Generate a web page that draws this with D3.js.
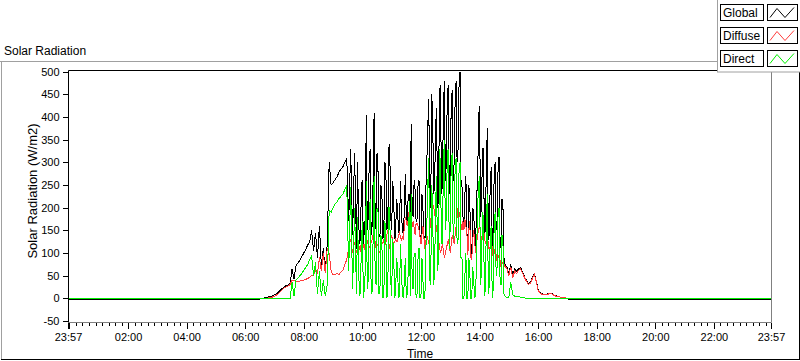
<!DOCTYPE html>
<html><head><meta charset="utf-8">
<script src="https://cdn.jsdelivr.net/npm/d3@7"></script>
<style>
html,body{margin:0;padding:0;background:#fff;}
svg{display:block;font-family:"Liberation Sans",Arial,sans-serif;}
</style></head>
<body>
<svg id="chart" width="800" height="361"></svg>
<script>
// ---------------- DATA ----------------
const times = ["23:57","06:28",
"06:32","06:36","06:40","06:44","06:48","06:52","06:56","07:00","07:04","07:08",
"07:12","07:16","07:20","07:24","07:28","07:32","07:36","07:40","07:44","07:48",
"07:52","07:56","08:00","08:04","08:08","08:12","08:16","08:20","08:24","08:28",
"08:32","08:36","08:40","08:44","08:48","08:52","08:56","09:00","09:04","09:08",
"09:12","09:16","09:20","09:24","09:28","09:32","09:36","09:40","09:44",
"09:48","09:50","09:52","09:54","09:56","09:58","10:00","10:02","10:04","10:06",
"10:08","10:10","10:12","10:14","10:16","10:18","10:20","10:22","10:24","10:26",
"10:28","10:30","10:32","10:34","10:36","10:38","10:40","10:42","10:44","10:46",
"10:48","10:50","10:52","10:54","10:56","10:58","11:00","11:02","11:04","11:06",
"11:08","11:10","11:12","11:14","11:16","11:18","11:20","11:22","11:24","11:26",
"11:28","11:30","11:32","11:34","11:36","11:38","11:40","11:42","11:44","11:46",
"11:48","11:50","11:52","11:54","11:56","11:58","12:00","12:02","12:04","12:06",
"12:08","12:10","12:12","12:14","12:16","12:18","12:20","12:22","12:24","12:26",
"12:28","12:30","12:32","12:34","12:36","12:38","12:40","12:42","12:44","12:46",
"12:48","12:50","12:52","12:54","12:56","12:58","13:00","13:02","13:04","13:06",
"13:08","13:10","13:12","13:14","13:16","13:18","13:20","13:22","13:24","13:26",
"13:28","13:30","13:32","13:34","13:36","13:38","13:40","13:42","13:44","13:46",
"13:48","13:50","13:52","13:54","13:56","13:58","14:00","14:02","14:04","14:06",
"14:08","14:10","14:12","14:14","14:16","14:18","14:20","14:22","14:24","14:26",
"14:28","14:30","14:32","14:34","14:36","14:38","14:40","14:42","14:44","14:46",
"14:48","14:50","14:52","14:54","14:56","14:58","15:00",
"15:04","15:08",
"15:12","15:16","15:20","15:24","15:28","15:32","15:36","15:40","15:44","15:48",
"15:52","15:56","16:00","16:04","16:08","16:12","16:16","16:20","16:24","16:28",
"16:32","16:36","16:40","16:44","16:48","16:52","16:56","17:00","17:04","17:08","17:12",
"17:16","23:57"];

const globalRad = [-2,-2,
-1,0,1,2,3,4,6,8,10,14,
18,22,26,28,30,33,65,42,72,78,
84,92,100,108,118,125,150,105,145,90,
160,70,110,60,120,300,250,255,262,268,
278,285,290,300,310,170,330,140,320,
110,300,190,120,130,250,260,120,150,180,
405,150,180,300,330,140,160,260,410,200,
150,320,280,140,135,250,230,130,150,300,
290,150,160,330,340,180,150,260,230,130,
140,220,200,145,150,260,190,150,140,200,
275,175,170,230,230,175,385,190,180,260,
240,170,175,250,260,140,130,230,200,140,
115,240,300,380,440,200,200,450,400,230,
250,380,420,200,220,460,470,230,250,420,
480,260,300,450,470,230,280,430,460,260,
300,440,480,300,330,470,500,260,250,180,
160,230,270,150,100,250,220,95,90,200,
190,130,110,230,250,400,425,180,200,330,
330,140,150,300,376,130,140,260,290,115,
120,280,300,150,160,290,313,130,110,220,
200,90,75,72,70,62,55,
75,50,
65,60,65,68,58,48,40,33,35,45,
55,40,20,13,10,9,9,10,12,11,
8,6,4,3,2,1,1,-1,-2,-2,-2,
-2,-2];

const diffuseRad = [0,0,
0,0,0,0,1,2,3,5,7,11,
15,19,23,25,27,31,40,40,38,38,
38,40,40,42,44,46,50,52,60,55,
90,60,100,55,110,100,60,52,52,55,
52,58,62,75,85,110,130,100,125,
100,115,120,110,105,125,130,115,110,125,
140,125,120,115,110,125,130,140,145,125,
110,115,120,105,100,115,125,120,130,125,
120,140,150,125,110,130,140,125,120,125,
130,125,125,140,145,135,130,135,130,160,
180,170,160,175,195,150,150,160,170,155,
140,165,165,160,150,135,120,140,160,135,
110,125,140,130,120,150,170,195,210,200,
190,170,150,140,130,115,100,110,120,105,
90,100,110,120,130,115,100,120,140,130,
120,140,160,180,200,190,180,165,150,170,
150,175,160,145,95,150,170,90,85,130,
150,125,100,120,140,150,160,145,130,140,
155,135,120,130,140,120,105,115,130,110,
90,100,110,95,80,90,95,85,70,75,
80,75,70,68,65,58,50,
70,45,
60,55,62,65,56,46,38,31,33,43,
53,38,18,12,9,8,8,9,11,10,
7,5,4,3,2,1,1,0,0,0,0,
0,0];

const directRad = [0,0,
0,0,0,0,0,0,0,0,0,0,
0,0,0,0,0,0,35,5,40,45,
50,55,62,68,75,85,95,50,80,10,
60,5,40,5,30,195,190,200,208,213,
220,225,230,240,248,60,245,20,200,
10,180,80,5,15,120,170,0,20,60,
260,20,40,180,220,10,15,130,270,70,
30,200,190,10,20,140,120,0,5,170,
150,0,10,200,200,40,5,130,110,0,
10,90,70,0,5,120,60,10,0,40,
90,0,10,60,215,5,230,30,20,100,
100,0,10,90,110,0,5,90,40,0,
0,110,160,250,310,40,30,250,190,30,
60,210,270,60,90,330,290,120,120,300,
350,150,180,320,330,110,160,300,320,130,
170,290,310,120,130,280,300,90,90,0,
0,50,100,0,0,90,60,0,0,70,
40,0,10,100,200,250,270,30,60,190,
180,5,20,170,230,10,30,140,160,0,
20,170,190,50,70,190,200,40,30,140,
120,10,5,3,2,2,3,
35,8,
5,3,4,2,1,1,0,0,0,0,
0,0,0,0,0,0,0,0,0,0,
0,0,0,0,0,0,0,0,0,0,0,
0,0];

const seriesNames = ["Global","Diffuse","Direct"];
const seriesColors = ["#000000","#ff3c3c","#00f000"];
const yTicks = [-50,0,50,100,150,200,250,300,350,400,450,500];
const xTickTimes = ["23:57","00:00","02:00","04:00","06:00","08:00","10:00","12:00","14:00","16:00","18:00","20:00","22:00","23:57"];
const xTickLabels = ["23:57","","02:00","04:00","06:00","08:00","10:00","12:00","14:00","16:00","18:00","20:00","22:00","23:57"];

// ---------------- HELPERS ----------------
const toDate = (s, first) => { const [h,m] = s.split(":").map(Number); return new Date(2020,0, first ? 1 : 2, h, m); };
const dates = times.map((s,i) => toDate(s, i===0));

const svg = d3.select("#chart");
const L = 68.5, R = 771.5, T = 70.5, B = 322.5;

const x = d3.scaleTime().domain([toDate("23:57",true), toDate("23:57",false)]).range([68, 771]);
const y = d3.scaleLinear().domain([-50, 500]).range([321, 71.8]);

// outer frame
svg.append("line").attr("x1",0).attr("x2",717).attr("y1",61.5).attr("y2",61.5).attr("stroke","#a0a0a0");
svg.append("line").attr("x1",1.5).attr("x2",1.5).attr("y1",61.5).attr("y2",359).attr("stroke","#a0a0a0");
svg.append("line").attr("x1",1).attr("x2",800).attr("y1",359.5).attr("y2",359.5).attr("stroke","#000");
svg.append("line").attr("x1",799.5).attr("x2",799.5).attr("y1",72).attr("y2",360).attr("stroke","#000");

// title
svg.append("text").attr("x",4).attr("y",55).attr("font-size",12).attr("fill","#000").text("Solar Radiation");

// clip
svg.append("clipPath").attr("id","clip").append("rect").attr("x",69).attr("y",71).attr("width",702).attr("height",251);

const allSeries = [globalRad, diffuseRad, directRad];
const n = Math.min(dates.length, ...allSeries.map(s=>s.length));
const lineGen = vals => d3.line().x((d,i)=>x(dates[i])).y(d=>y(d))(vals.slice(0,n));
const g = svg.append("g").attr("clip-path","url(#clip)");
allSeries.forEach((vals, k) => {
  g.append("path").attr("d", lineGen(vals)).attr("fill","none")
    .attr("stroke", seriesColors[k]).attr("stroke-width",1).attr("shape-rendering","crispEdges");
});

// plot frame
svg.append("line").attr("x1",L).attr("x2",R).attr("y1",B).attr("y2",B).attr("stroke","#808080");
svg.append("line").attr("x1",R).attr("x2",R).attr("y1",T).attr("y2",B).attr("stroke","#808080");
svg.append("line").attr("x1",L).attr("x2",R+0.5).attr("y1",T).attr("y2",T).attr("stroke","#000");
svg.append("line").attr("x1",L).attr("x2",L).attr("y1",T).attr("y2",B).attr("stroke","#000");

// y axis
const yAxis = d3.axisLeft(y).tickValues(yTicks).tickSize(6).tickPadding(3).tickFormat(d=>String(d));
const ya = svg.append("g").attr("transform","translate(68.5,0)").call(yAxis);
ya.select(".domain").remove();
ya.selectAll("line").attr("stroke","#000").attr("shape-rendering","crispEdges");
ya.selectAll("text").attr("font-size",11).attr("fill","#000").attr("font-family","Liberation Sans, Arial, sans-serif");

// x axis major
const majorDates = xTickTimes.map((s,i)=>toDate(s, i===0));
const xAxis = d3.axisBottom(x).tickValues(majorDates).tickSize(6).tickPadding(4)
  .tickFormat((d,i)=>xTickLabels[i]);
const xa = svg.append("g").attr("transform","translate(0,323)").call(xAxis);
xa.select(".domain").remove();
xa.selectAll("line").attr("stroke","#000").attr("shape-rendering","crispEdges");
xa.selectAll("text").attr("font-size",11).attr("fill","#000").attr("font-family","Liberation Sans, Arial, sans-serif");

// x axis minor: 9 divisions per 2 hours
const minorDates = [];
const t0 = toDate("00:00", false).getTime();
const stepMs = 2*3600*1000/9;
for (let k=1; t0 + k*stepMs < toDate("23:57",false).getTime(); k++) {
  if (k % 9 !== 0) minorDates.push(new Date(t0 + k*stepMs));
}
const xMinor = d3.axisBottom(x).tickValues(minorDates).tickSize(3).tickFormat("");
const xm = svg.append("g").attr("transform","translate(0,323)").call(xMinor);
xm.select(".domain").remove();
xm.selectAll("line").attr("stroke","#000").attr("shape-rendering","crispEdges");

// axis titles
svg.append("text").attr("transform","translate(37,191) rotate(-90)").attr("text-anchor","middle")
  .attr("font-size",13).attr("fill","#000").text("Solar Radiation (W/m2)");
svg.append("text").attr("x",420).attr("y",358).attr("text-anchor","middle")
  .attr("font-size",12).attr("fill","#000").text("Time");

// legend
const lg = svg.append("g");
lg.append("rect").attr("x",717.5).attr("y",-1).attr("width",84).attr("height",73).attr("fill","#fff").attr("stroke","#a0a0a0");
seriesNames.forEach((name,k)=>{
  const oy = 4.5 + k*23;
  lg.append("rect").attr("x",720.5).attr("y",oy).attr("width",43).attr("height",16).attr("fill","#fff").attr("stroke","#000");
  lg.append("text").attr("x",723).attr("y",oy+12.5).attr("font-size",12).attr("fill","#000").text(name);
  lg.append("rect").attr("x",767.5).attr("y",oy).attr("width",30).attr("height",16).attr("fill","#fff").attr("stroke","#000");
  lg.append("path").attr("d",`M770,${oy+13} L777,${oy+4} L785,${oy+13} L794,${oy+3}`)
    .attr("fill","none").attr("stroke",seriesColors[k]).attr("stroke-width",1);
});
</script>
</body></html>
